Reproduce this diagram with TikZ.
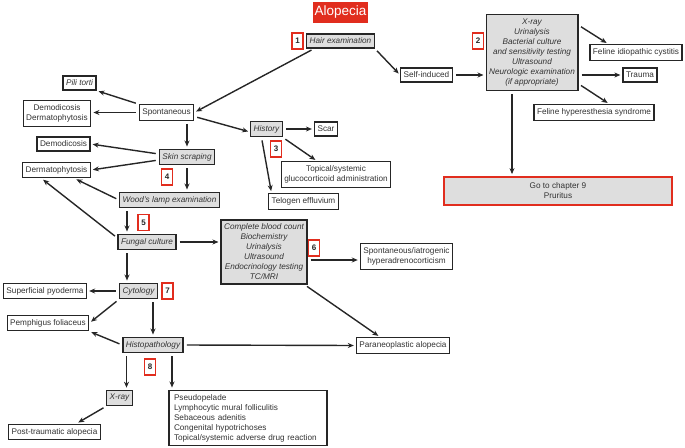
\documentclass[tikz,border=0pt]{standalone}
\usepackage{fontspec}
\setmainfont{Liberation Sans}
\usetikzlibrary{arrows.meta}
\definecolor{alored}{RGB}{225,45,30}
\definecolor{boxgray}{RGB}{222,222,222}
\tikzset{
  box/.style={draw=black!85,line width=1.3pt,fill=white,inner xsep=3pt,inner ysep=4pt,
    font=\fontsize{8.2}{10}\selectfont,text=black!80,align=center},
  testbox/.style={box,fill=boxgray,font=\fontsize{8.2}{10}\selectfont\itshape},
  numbox/.style={draw=alored,line width=1.2pt,fill=white,inner sep=1pt,minimum width=11pt,
    minimum height=16pt,font=\fontsize{8}{10}\selectfont\bfseries,text=black!85},
  arr/.style={-{Stealth[length=6pt,width=5pt]},line width=1.4pt,black!85,shorten >=2pt,shorten <=3pt}
}
\begin{document}
\begin{tikzpicture}[x=1pt,y=-1pt]
  \useasboundingbox (0,0) rectangle (685,447);

  \node[fill=alored,text=white,font=\fontsize{13.5}{15}\selectfont,minimum width=55pt,minimum height=21pt,inner sep=1pt] (Alopecia) at (340.5,12.5) {Alopecia};
  \node[testbox] (HairExam) at (340.5,41) {Hair examination};
  \node[numbox] (N1) at (297.5,41) {1};

  \node[box] (SelfInduced) at (426.5,75) {Self-induced};
  \node[testbox] (Tests) at (532,52.5) {X-ray\\Urinalysis\\Bacterial culture\\and sensitivity testing\\Ultrasound\\Neurologic examination\\(if appropriate)};
  \node[numbox] (N2) at (478,41) {2};
  \node[box] (Cystitis) at (636,52.5) {Feline idiopathic cystitis};
  \node[box] (Trauma) at (640,75) {Trauma};
  \node[box] (Hyperesthesia) at (594,112.5) {Feline hyperesthesia syndrome};
  \node[box,draw=alored,line width=1.8pt,fill=boxgray,minimum width=228pt,minimum height=28pt] (Pruritus) at (558,191) {Go to chapter 9\\Pruritus};

  \node[box,font=\fontsize{8.2}{10}\selectfont\itshape] (PiliTorti) at (79.5,83) {Pili torti};
  \node[box] (DemoDerma) at (57,113.5) {Demodicosis\\Dermatophytosis};
  \node[box] (Spontaneous) at (166.5,112.5) {Spontaneous};
  \node[testbox] (History) at (266.5,129) {History};
  \node[box] (Scar) at (326,129) {Scar};
  \node[numbox] (N3) at (276,149) {3};
  \node[box] (Glucocorticoid) at (336,174.5) {Topical/systemic\\glucocorticoid administration};
  \node[box] (Telogen) at (303.5,201.5) {Telogen effluvium};

  \node[box] (Demodicosis) at (63.5,144) {Demodicosis};
  \node[testbox] (SkinScraping) at (187,157) {Skin scraping};
  \node[box] (Dermatophytosis) at (56.5,170) {Dermatophytosis};
  \node[numbox] (N4) at (167,177) {4};
  \node[testbox] (WoodsLamp) at (169.5,200) {Wood's lamp examination};
  \node[numbox] (N5) at (143.5,222.5) {5};
  \node[testbox] (Fungal) at (147,242) {Fungal culture};
  \node[testbox] (Bloodwork) at (264,252) {Complete blood count\\Biochemistry\\Urinalysis\\Ultrasound\\Endocrinology testing\\TC/MRI};
  \node[numbox] (N6) at (314,248) {6};
  \node[box] (Hyperadreno) at (406.5,256.5) {Spontaneous/iatrogenic\\hyperadrenocorticism};

  \node[box] (Pyoderma) at (45,291) {Superficial pyoderma};
  \node[testbox] (Cytology) at (138.5,291) {Cytology};
  \node[numbox] (N7) at (167.5,291) {7};
  \node[box] (Pemphigus) at (48,323) {Pemphigus foliaceus};
  \node[testbox] (Histo) at (153,345) {Histopathology};
  \node[box] (Paraneoplastic) at (403,345.5) {Paraneoplastic alopecia};
  \node[numbox] (N8) at (150,367) {8};
  \node[testbox] (XRay) at (119.5,398) {X-ray};
  \node[box] (PostTrauma) at (54.5,432) {Post-traumatic alopecia};
  \node[box,align=left,text width=148pt,inner xsep=5pt] (Others) at (248,418) {Pseudopelade\\Lymphocytic mural folliculitis\\Sebaceous adenitis\\Congenital hypotrichoses\\Topical/systemic adverse drug reaction};

 \draw[arr] ([xshift=8pt]HairExam.south west) to (Spontaneous.east);
 \draw[arr] (HairExam.south east) to (SelfInduced.west);
 \draw[arr] (SelfInduced.east) to (SelfInduced.east -| Tests.west);
 \draw[arr] ([yshift=-11pt]Tests.north east) to ([xshift=19pt]Cystitis.north west);
 \draw[arr] (Tests.east |- Trauma) to (Trauma.west);
 \draw[arr] ([yshift=7pt]Tests.south east) to ([xshift=76pt]Hyperesthesia.north west);
 \draw[arr] ([xshift=-20pt]Tests.south) to ([xshift=-20pt]Tests.south |- Pruritus.north);

 \draw[arr] (Spontaneous.north west) to (PiliTorti.south east);
 \draw[arr] (Spontaneous.west) to (Spontaneous.west -| DemoDerma.east);
 \draw[arr] (SkinScraping.north |- Spontaneous.south) to (SkinScraping.north);
 \draw[arr] ([yshift=-4pt]Spontaneous.east) to ([yshift=-3pt]History.west);
 \draw[arr] (History) to (Scar);
 \draw[arr] (History.south east) to ([xshift=-19pt]Glucocorticoid.north);
 \draw[arr] ([xshift=-5pt]History.south) to ([xshift=-32pt]Telogen.north);

 \draw[arr] ([yshift=3pt]SkinScraping.west) to (Demodicosis.east);
 \draw[arr] ([yshift=-3pt]SkinScraping.west) to (Dermatophytosis.east);
 \draw[arr] (SkinScraping.south) to (SkinScraping.south |- WoodsLamp.north);
 \draw[arr] (WoodsLamp.west) to ([xshift=18pt]Dermatophytosis.south);
 \draw[arr] ([yshift=4pt]Fungal.west) to ([xshift=-15pt]Dermatophytosis.south);
 \draw[arr] ([xshift=-20pt]Fungal.north |- WoodsLamp.south) to ([xshift=-20pt]Fungal.north);
 \draw[arr] (Fungal.east) to (Fungal.east -| Bloodwork.west);
 \draw[arr] ([xshift=-20pt]Fungal.south) to ([xshift=-20pt]Fungal.south |- Cytology.north);
 \draw[arr] ([yshift=-8pt]Bloodwork.east) to ([yshift=-8pt]Bloodwork.east -| Hyperadreno.west);
 \draw[arr] ([xshift=-3pt]Bloodwork.south east) to ([xshift=-23pt]Paraneoplastic.north);

 \draw[arr] (Cytology.west) to (Pyoderma.east);
 \draw[arr] (Cytology.south west) to (Pemphigus.east);
 \draw[arr] (Histo.north |- Cytology.south) to (Histo.north);
 \draw[arr] (Histo.west) to (Pemphigus.south east);
 \draw[arr] (Histo.east) to (Paraneoplastic.west);
 \draw[arr] ([xshift=7pt]XRay.north |- Histo.south) to ([xshift=7pt]XRay.north);
 \draw[arr] ([xshift=19pt]Histo.south) to ([xshift=19pt]Histo.south |- Others.north);
 \draw[arr] (XRay.south west) to ([xshift=22pt]PostTrauma.north);

\end{tikzpicture}
\end{document}
